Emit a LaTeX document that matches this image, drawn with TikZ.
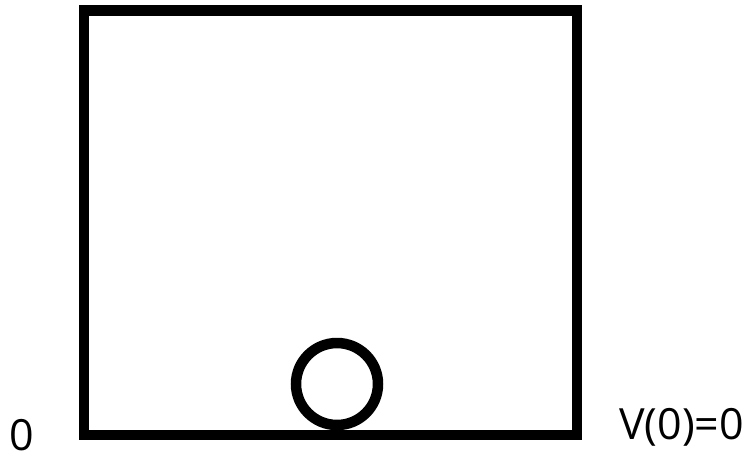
\documentclass[tikz,border=0pt]{standalone}
\usepackage{fontspec}
\setmainfont{Open Sans}
\tikzset{
  thick line/.style={line width=10.5pt, black},
  lbl/.style={font=\fontsize{43}{43}\selectfont, inner sep=0pt, anchor=base}
}
\begin{document}
\begin{tikzpicture}[x=1pt,y=-1pt]
\useasboundingbox (0,0) rectangle (752,459);
\draw[thick line, line join=miter] (84,10.5) rectangle (577,435);
\node[draw, circle, thick line, minimum size=82pt, inner sep=0pt] (ball) at (337,384) {};
\node[lbl] (zero) at (21.5,450) {0};
\node[lbl] (v0) at (681.5,439) {V(0)=0};
\end{tikzpicture}
\end{document}
